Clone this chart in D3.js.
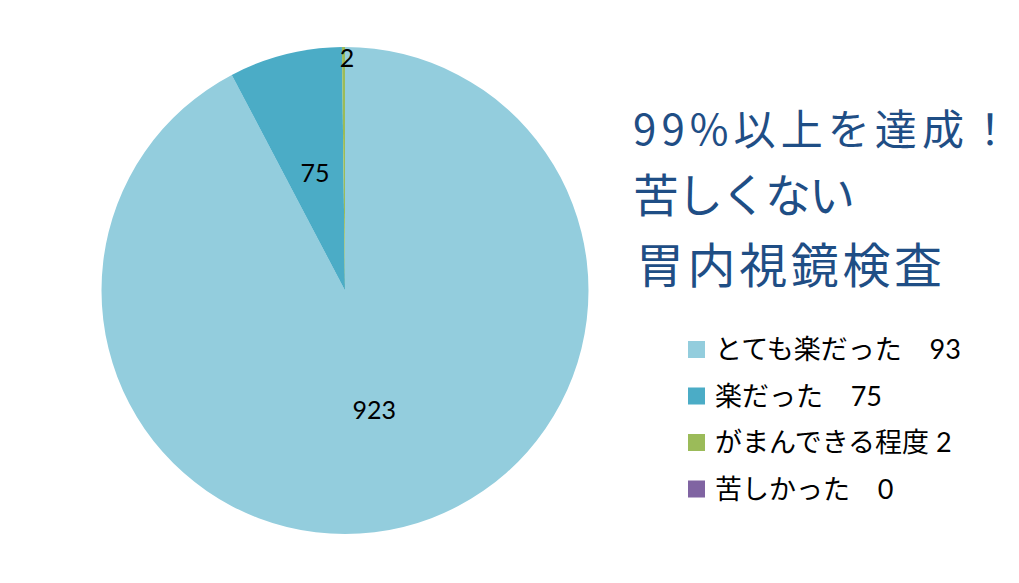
<!DOCTYPE html>
<html>
<head>
<meta charset="utf-8">
<script src="https://cdn.jsdelivr.net/npm/d3@7"></script>
<style>
  body { margin: 0; background: #fff; }
  svg { display: block; }
</style>
</head>
<body>
<script>
  // data
  const categories = ["とても楽だった", "楽だった", "がまんできる程度", "苦しかった"];
  const values = [923, 75, 2, 0];
  const legendLabels = ["とても楽だった\u00a0\u00a0\u00a0\u00a093", "楽だった\u00a0\u00a0\u00a0\u00a075", "がまんできる程度\u00a02", "苦しかった\u00a0\u00a0\u00a0\u00a00"];
  const titleLines = ["99%以上を達成！", "苦しくない", "胃内視鏡検査"];
  const colors = ["#93cddd", "#4bacc6", "#9bbb59", "#8064a2"];

  const width = 1019, height = 583;
  const cx = 345, cy = 290.5, radius = 243.5;
  const numFont = "Lato, 'Noto Sans CJK JP', sans-serif";
  const jpFont = "'Noto Sans CJK JP', sans-serif";

  const svg = d3.select("body").append("svg")
      .attr("width", width)
      .attr("height", height);

  const color = d3.scaleOrdinal().domain(categories).range(colors);

  const pie = d3.pie().sort(null).value(d => d.value);
  const arcs = pie(categories.map((c, i) => ({name: c, value: values[i]})));
  const arc = d3.arc().innerRadius(0).outerRadius(radius);

  const g = svg.append("g").attr("transform", `translate(${cx},${cy})`);

  g.selectAll("path")
    .data(arcs)
    .join("path")
      .attr("d", arc)
      .attr("fill", d => color(d.data.name));

  // data labels: mid-radius for the big slices, near the rim for the sliver
  const midArc = d3.arc().innerRadius(radius * 0.5).outerRadius(radius * 0.5);
  const rimArc = d3.arc().innerRadius(radius * 0.96).outerRadius(radius * 0.96);
  g.selectAll("text.lbl")
    .data(arcs.filter(d => d.data.value > 0))
    .join("text")
      .attr("class", "lbl")
      .attr("transform", d => {
        const small = (d.endAngle - d.startAngle) < 0.1;
        const p = small ? rimArc.centroid(d) : midArc.centroid(d);
        if (small) p[0] += 3.5;
        return `translate(${p[0]},${p[1]})`;
      })
      .attr("text-anchor", "middle")
      .attr("dominant-baseline", "central")
      .attr("font-family", numFont)
      .attr("font-size", 25)
      .attr("fill", "#000")
      .text(d => d.data.value);

  // title
  const titleSizes = [42, 46, 48];
  const titleY = [145, 212, 283];
  const titleLen = [378, 222, 306];
  svg.append("g").selectAll("text")
    .data(titleLines)
    .join("text")
      .attr("x", (d, i) => i === 2 ? 636 : 633)
      .attr("y", (d, i) => titleY[i])
      .attr("font-family", jpFont)
      .attr("font-size", (d, i) => titleSizes[i])
      .attr("textLength", (d, i) => titleLen[i])
      .attr("lengthAdjust", "spacing")
      .attr("fill", "#1f4e85")
      .text(d => d);

  // legend
  const legend = svg.append("g").attr("transform", "translate(688,349)");
  const row = legend.selectAll("g")
    .data(categories)
    .join("g")
      .attr("transform", (d, i) => `translate(0,${i * 46.5})`);
  row.append("rect")
      .attr("x", 0).attr("y", -8)
      .attr("width", 17).attr("height", 17)
      .attr("fill", d => color(d));
  row.append("text")
      .attr("x", 27)
      .attr("y", 10)
      .attr("font-family", numFont)
      .attr("font-size", 27)
      .attr("fill", "#000")
      .text((d, i) => legendLabels[i]);
</script>
</body>
</html>
